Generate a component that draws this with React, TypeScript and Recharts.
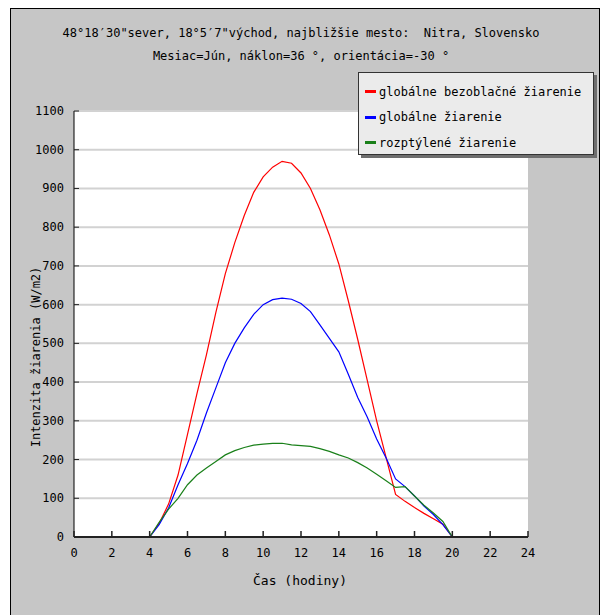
import { LineChart, Line, XAxis, YAxis, CartesianGrid } from 'recharts';

// Time of day (hours), sampled every half hour from sunrise to sunset
const HOURS = [
  4, 4.5, 5, 5.5, 6, 6.5, 7, 7.5, 8, 8.5, 9, 9.5, 10, 10.5, 11, 11.5, 12,
  12.5, 13, 13.5, 14, 14.5, 15, 15.5, 16, 16.5, 17, 17.5, 18, 18.5, 19, 19.5, 20,
];

// globálne bezoblačné žiarenie (W/m2)
const CLEAR_SKY = [
  0, 35, 85, 160, 265, 370, 470, 580, 680, 760, 830, 890, 930, 955, 970, 965, 940,
  900, 845, 780, 705, 610, 510, 405, 300, 205, 110, 92, 76, 61, 47, 33, 0,
];

// globálne žiarenie (W/m2)
const GLOBAL = [
  0, 32, 75, 135, 190, 250, 320, 385, 450, 500, 540, 575, 600, 613, 617, 614, 603,
  582, 548, 513, 478, 420, 360, 310, 253, 204, 150, 130, 106, 80, 58, 32, 0,
];

// rozptýlené žiarenie (W/m2)
const DIFFUSE = [
  0, 38, 72, 100, 135, 160, 178, 195, 212, 223, 231, 237, 240, 242, 242, 238, 236,
  234, 228, 221, 212, 204, 192, 178, 162, 145, 128, 130, 106, 82, 62, 40, 0,
];

const X_TICKS = [0, 2, 4, 6, 8, 10, 12, 14, 16, 18, 20, 22, 24];
const Y_TICKS = [0, 100, 200, 300, 400, 500, 600, 700, 800, 900, 1000, 1100];

const SERIES = [
  { key: 'clear', name: 'globálne bezoblačné žiarenie', color: '#ff0000' },
  { key: 'global', name: 'globálne žiarenie', color: '#0000ff' },
  { key: 'diffuse', name: 'rozptýlené žiarenie', color: '#1a801a' },
];

const FONT = '"DejaVu Sans Mono", monospace';

const data = HOURS.map((h, i) => ({
  h,
  clear: CLEAR_SKY[i],
  global: GLOBAL[i],
  diffuse: DIFFUSE[i],
}));

// ticks point into the plot, labels sit outside
function XTick({ x, y, payload }: any) {
  return (
    <g>
      <line x1={x} x2={x} y1={y} y2={y - 6} stroke="#222" strokeWidth={1.5} />
      <text x={x} y={y + 20} textAnchor="middle" fontFamily={FONT} fontSize={12} fill="#000">
        {payload.value}
      </text>
    </g>
  );
}

function YTick({ x, y, payload }: any) {
  return (
    <g>
      <line x1={x} x2={x + 5} y1={y} y2={y} stroke="#222" strokeWidth={1} />
      <text x={x - 10} y={y + 4} textAnchor="end" fontFamily={FONT} fontSize={12} fill="#000">
        {payload.value}
      </text>
    </g>
  );
}

export default function App() {
  return (
    <div style={{ position: 'relative', width: 600, height: 615, overflow: 'hidden', background: '#fff' }}>
      <style>{'body{margin:0}'}</style>

      {/* grey frame */}
      <div
        style={{
          position: 'absolute',
          left: 10,
          top: 8,
          width: 588,
          height: 620,
          background: '#c6c6c6',
          borderLeft: '1px solid #000',
          borderTop: '1px solid #000',
          borderRight: '1px solid #000',
        }}
      />

      {/* title */}
      <div
        style={{
          position: 'absolute',
          left: 0,
          top: 22,
          width: 602,
          textAlign: 'center',
          fontFamily: FONT,
          fontSize: 12,
          lineHeight: '23px',
          color: '#000',
          whiteSpace: 'pre',
        }}
      >
        {'48°18′30"sever, 18°5′7"východ, najbližšie mesto:  Nitra, Slovensko'}
        <br />
        {'Mesiac=Jún, náklon=36 °, orientácia=-30 °'}
      </div>

      <div style={{ position: 'absolute', left: 0, top: 0 }}>
        <LineChart width={600} height={615} data={data} margin={{ top: 111, right: 72, bottom: 38, left: 0 }}>
          <CartesianGrid vertical={false} stroke="#d2d2d2" strokeWidth={2} fill="#ffffff" />
          <XAxis
            dataKey="h"
            type="number"
            domain={[0, 24]}
            ticks={X_TICKS}
            interval={0}
            height={40}
            tickSize={0}
            tickMargin={0}
            tickLine={false}
            tick={<XTick />}
            axisLine={{ stroke: '#222', strokeWidth: 2 }}
          />
          <YAxis
            type="number"
            domain={[0, 1100]}
            ticks={Y_TICKS}
            interval={0}
            width={74}
            tickSize={0}
            tickMargin={0}
            tickLine={false}
            tick={<YTick />}
            axisLine={{ stroke: '#000', strokeWidth: 1 }}
          />
          {SERIES.map((s) => (
            <Line
              key={s.key}
              type="linear"
              dataKey={s.key}
              name={s.name}
              stroke={s.color}
              strokeWidth={1.2}
              dot={false}
              isAnimationActive={false}
            />
          ))}
        </LineChart>
      </div>

      {/* axis titles */}
      <div
        style={{
          position: 'absolute',
          left: 36,
          top: 357,
          transform: 'translate(-50%, -50%) rotate(-90deg)',
          fontFamily: FONT,
          fontSize: 12,
          whiteSpace: 'pre',
          color: '#000',
        }}
      >
        Intenzita žiarenia (W/m2)
      </div>
      <div
        style={{
          position: 'absolute',
          left: 300,
          top: 580,
          transform: 'translate(-50%, -50%)',
          fontFamily: FONT,
          fontSize: 13,
          whiteSpace: 'pre',
          color: '#000',
        }}
      >
        Čas (hodiny)
      </div>

      {/* legend */}
      <div
        style={{
          position: 'absolute',
          left: 358,
          top: 72,
          width: 236,
          height: 83,
          background: '#ebebeb',
          border: '1px solid #333',
          boxShadow: '3px 3px 0 #6e6e6e',
          fontFamily: FONT,
          fontSize: 12,
          color: '#000',
          paddingTop: 6,
          boxSizing: 'border-box',
        }}
      >
        {SERIES.map((s) => (
          <div key={s.key} style={{ display: 'flex', alignItems: 'center', height: 25.5, whiteSpace: 'pre' }}>
            <span style={{ display: 'inline-block', width: 11, height: 3, background: s.color, marginLeft: 6, marginRight: 3 }} />
            {s.name}
          </div>
        ))}
      </div>
    </div>
  );
}
